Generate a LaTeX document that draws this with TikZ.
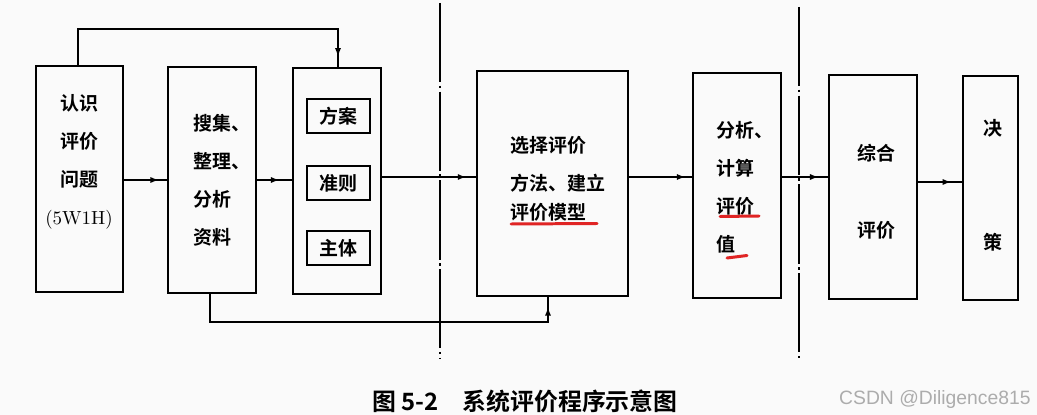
\documentclass[tikz,border=0pt]{standalone}
\usepackage{fontspec}
\usepackage{xcolor}
\usepackage{tikz}
\usetikzlibrary{arrows.meta}
\usetikzlibrary{positioning}
\usetikzlibrary{decorations.markings}
\newfontfamily\cjk{Noto Sans CJK SC}[BoldFont={Noto Sans CJK SC Bold}]
\setsansfont{Liberation Sans}
\newlength\px
\setlength\px{0.02cm}
\definecolor{penred}{HTML}{E02424}
\definecolor{paper}{HTML}{FAFAFA}

\begin{document}
\begin{tikzpicture}[x=0.02cm, y=-0.02cm,
    box/.style={rectangle, draw, line width=1.2pt, inner sep=0pt},
    txt/.style={font=\cjk\bfseries\fontsize{10.8}{21.6}\selectfont, inner sep=0pt, align=left},
    flow/.style={line width=1.1pt, postaction={decorate},
      decoration={markings, mark=at position #1 with {\arrow{Latex[length=5pt, width=3.5pt]}}}},
    divider/.style={line width=1.2pt, dash pattern=on 45pt off 2pt on 1.5pt off 2pt},
    penline/.style={penred, line width=1.7pt, line cap=round},
  ]

  \fill[paper] (0,0) rectangle (1037,415);
  \useasboundingbox (0,0) rectangle (1037,415);

  % boxes
  \node[box, minimum width=87\px, minimum height=226\px] (b1) at (79.5,179) {};
  \node[box, minimum width=88\px, minimum height=226\px] (b2) at (212,180) {};
  \node[box, minimum width=88\px, minimum height=226\px] (b3) at (337,181) {};
  \node[box, minimum width=151\px, minimum height=225\px] (b4) at (552.5,183.5) {};
  \node[box, minimum width=88\px, minimum height=225\px] (b5) at (737,185.5) {};
  \node[box, minimum width=88\px, minimum height=224\px] (b6) at (873,187) {};
  \node[box, minimum width=55\px, minimum height=224\px] (b7) at (990.5,188) {};

  \node[box, txt, minimum width=63\px, minimum height=34\px] (plan) at (338.5,116) {方案};
  \node[box, txt, minimum width=63\px, minimum height=34\px] (rule) at (338.5,183) {准则};
  \node[box, txt, minimum width=63\px, minimum height=34\px] (subj) at (338.5,248) {主体};

  % texts
  \node[txt, align=center] (b1-txt) at (79,162)
    {认识\\评价\\问题\\{\rmfamily\mdseries\addfontfeature{LetterSpace=10}(5W1H)}};
  \node[txt, anchor=west] (b2-txt) at (193,180) {搜集、\\整理、\\分析\\资料};
  \node[txt, anchor=west] (b4-txt) at (510,178.5) {选择评价\\方法、建立\\[-5.2pt]评价模型};
  \node[txt, anchor=west] (b5-txt) at (716,187.5) {分析、\\计算\\评价\\值};
  \node[txt, align=center] (b6-txt) at (876,191.5) {综合\\[22pt]评价};
  \node[txt, align=center] (b7-txt) at (993,185.5) {决\\[43.6pt]策};

  % lanes and turns
  \coordinate (lane1) at (0,180);
  \coordinate (lane2) at (0,177);
  \coordinate (lane3) at (0,182);
  \coordinate (fb1) at (78,29);
  \coordinate (fb2) at (338,29);
  \coordinate (fb3) at (210,322);
  \coordinate (fb4) at (548,322);

  \draw[flow=0.82] (b1.east |- lane1) -- (b2.west |- lane1);
  \draw[flow=0.65] (b2.east |- lane1) -- (b3.west |- lane1);
  \draw[flow=0.9]  (b3.east |- lane2) -- (b4.west |- lane2);
  \draw[flow=0.9]  (b4.east |- lane2) -- (b5.west |- lane2);
  \draw[flow=0.8]  (b5.east |- lane2) -- (b6.west |- lane2);
  \draw[flow=0.76] (b6.east |- lane3) -- (b7.west |- lane3);

  \draw[flow=0.97] (b1.north -| fb1) -- (fb1) -- (fb2) -- (b3.north -| fb2);
  \draw[flow=0.975] (b2.south -| fb3) -- (fb3) -- (fb4) -- (b4.south -| fb4);

  % dividers
  \coordinate (d1a) at (440,3);
  \coordinate (d1b) at (440,358);
  \coordinate (d2a) at (799,7);
  \coordinate (d2b) at (799,360);
  \draw[divider] (d1a) -- (d1b);
  \draw[divider] (d2a) -- (d2b);

  % red pen marks
  \draw[penline] (511,224) -- (597,223.5);
  \draw[penline] (720,216.5) -- (759,216);
  \draw[penline] (727,258) -- (747,255.5);

  \node[font=\cjk\bfseries\fontsize{13.6}{16}\selectfont, inner sep=0pt, anchor=west] (cap) at (372,401)
    {图~5-2\hspace{1em}系统评价程序示意图};
  \node[font=\sffamily\fontsize{11}{13}\selectfont, text=gray!65, inner sep=0pt, anchor=east] (wm) at (1031,399)
    {CSDN @Diligence815};

\end{tikzpicture}
\end{document}
